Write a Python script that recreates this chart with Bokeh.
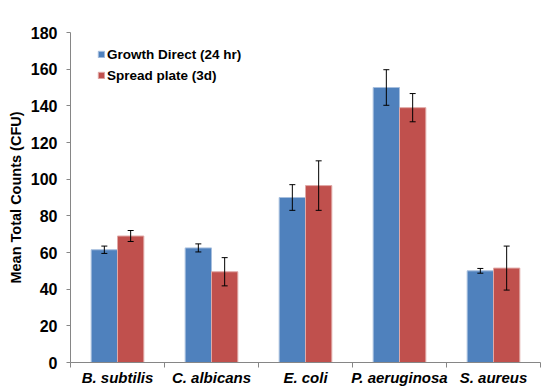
from bokeh.plotting import figure
from bokeh.models import (ColumnDataSource, Whisker, TeeHead, FixedTicker, Range1d,
                          Legend, LegendItem)
from bokeh.embed import file_html
from bokeh.resources import INLINE

categories = ["B. subtilis", "C. albicans", "E. coli", "P. aeruginosa", "S. aureus"]
growth = [61.5, 62.5, 90, 150, 50]
growth_err = [2.0, 2.2, 7.0, 9.7, 1.3]
spread = [69, 49.5, 96.5, 139, 51.5]
spread_err = [3.0, 7.7, 13.5, 7.7, 12.0]
y_ticks = [0, 20, 40, 60, 80, 100, 120, 140, 160, 180]

BLUE = "#4F81BD"
RED = "#C0504D"
FONT = "Liberation Sans"
bw = 0.28

centers = [i + 0.5 for i in range(len(categories))]
gx = [c - bw / 2 for c in centers]
sx = [c + bw / 2 for c in centers]

src_g = ColumnDataSource(dict(x=gx, top=growth,
                              lower=[v - e for v, e in zip(growth, growth_err)],
                              upper=[v + e for v, e in zip(growth, growth_err)]))
src_s = ColumnDataSource(dict(x=sx, top=spread,
                              lower=[v - e for v, e in zip(spread, spread_err)],
                              upper=[v + e for v, e in zip(spread, spread_err)]))

p = figure(width=550, height=388, output_backend="svg", toolbar_location=None,
           x_range=Range1d(0, len(categories)), y_range=Range1d(0, 180),
           min_border_left=70, min_border_right=10, min_border_top=32, min_border_bottom=0)
p.outline_line_color = None
p.xgrid.visible = False
p.ygrid.visible = False

rg = p.vbar(x="x", top="top", width=bw, bottom=0, source=src_g, fill_color=BLUE,
            line_color="#A7BFDE", line_width=1)
rs = p.vbar(x="x", top="top", width=bw, bottom=0, source=src_s, fill_color=RED,
            line_color="#E0A9A7", line_width=1)

for src in (src_g, src_s):
    w = Whisker(base="x", lower="lower", upper="upper", source=src, level="overlay",
                line_color="black", line_width=1,
                upper_head=TeeHead(size=6, line_color="black", line_width=1),
                lower_head=TeeHead(size=6, line_color="black", line_width=1))
    p.add_layout(w)

# x axis
p.xaxis.ticker = FixedTicker(ticks=centers, minor_ticks=list(range(len(categories) + 1)))
p.xaxis.major_label_overrides = {c: name for c, name in zip(centers, categories)}
p.xaxis.major_tick_line_color = None
p.xaxis.major_tick_out = 0
p.xaxis.major_tick_in = 0
p.xaxis.minor_tick_out = 5
p.xaxis.minor_tick_in = 0
p.xaxis.minor_tick_line_color = "#868686"
p.xaxis.axis_line_color = "#868686"
p.xaxis.major_label_text_font = FONT
p.xaxis.major_label_text_font_style = "bold italic"
p.xaxis.major_label_text_font_size = "15px"
p.xaxis.major_label_text_color = "black"
p.xaxis.major_label_standoff = 1

# y axis
p.yaxis.ticker = FixedTicker(ticks=y_ticks)
p.yaxis.minor_tick_line_color = None
p.yaxis.major_tick_out = 4
p.yaxis.major_tick_in = 0
p.yaxis.major_tick_line_color = "#868686"
p.yaxis.axis_line_color = "#868686"
p.yaxis.major_label_text_font = FONT
p.yaxis.major_label_text_font_style = "bold"
p.yaxis.major_label_text_font_size = "16px"
p.yaxis.major_label_text_color = "black"
p.yaxis.major_label_standoff = 9
p.yaxis.axis_label = "Mean Total Counts (CFU)"
p.yaxis.axis_label_text_font = FONT
p.yaxis.axis_label_text_font_style = "bold"
p.yaxis.axis_label_text_font_size = "14.5px"
p.yaxis.axis_label_text_color = "black"
p.yaxis.axis_label_standoff = 4

legend = Legend(items=[LegendItem(label="Growth Direct (24 hr)", renderers=[rg]),
                       LegendItem(label="Spread plate (3d)", renderers=[rs])],
                location=(27, 277), padding=0, margin=0, spacing=1,
                label_height=20, glyph_height=8, glyph_width=8, label_standoff=2,
                label_text_font=FONT, label_text_font_style="bold",
                label_text_font_size="13.5px", label_text_color="black",
                border_line_color=None, background_fill_alpha=0)
p.add_layout(legend, "center")

open("out.html", "w").write(file_html(p, INLINE))
